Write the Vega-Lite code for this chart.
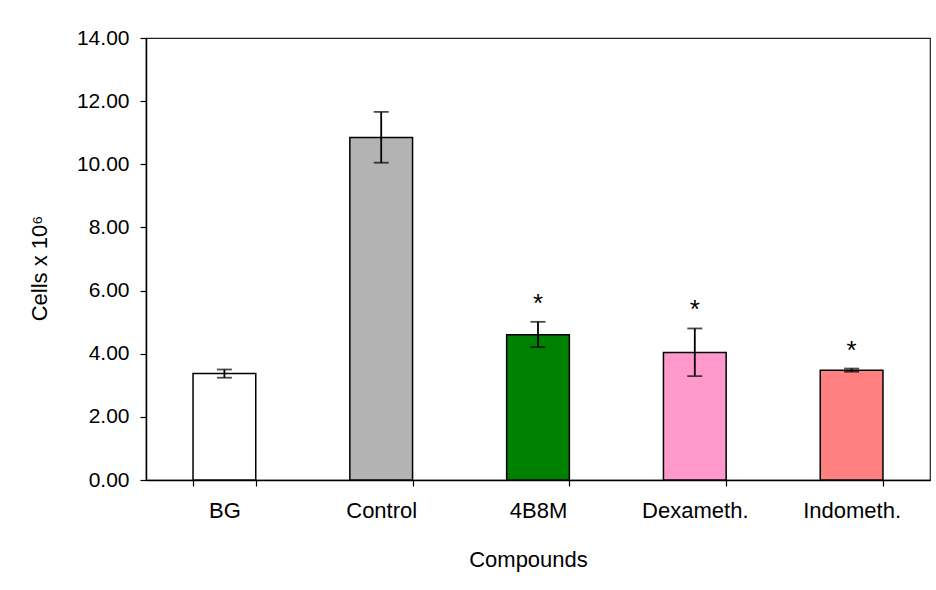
{
  "$schema": "https://vega.github.io/schema/vega-lite/v6.json",
  "autosize": {"type": "none"},
  "padding": {"left": 146, "top": 38, "right": 6, "bottom": 110},
  "width": 784,
  "height": 442,
  "background": "white",
  "config": {
    "font": "Liberation Sans",
    "view": {"stroke": "#222222", "strokeWidth": 1.2},
    "axis": {
      "domainColor": "#000000",
      "domainWidth": 1.5,
      "tickColor": "#000000",
      "tickWidth": 1.2,
      "tickSize": 6,
      "grid": false,
      "labelFont": "Liberation Sans",
      "labelFontSize": 21,
      "labelColor": "#000000",
      "titleFont": "Liberation Sans",
      "titleFontSize": 22,
      "titleFontWeight": "normal",
      "titleColor": "#000000"
    }
  },
  "data": {
    "values": [
      {"compound": "BG", "mean": 3.37, "lower": 3.24, "upper": 3.5, "sig": ""},
      {"compound": "Control", "mean": 10.85, "lower": 10.05, "upper": 11.66, "sig": ""},
      {"compound": "4B8M", "mean": 4.6, "lower": 4.21, "upper": 5.01, "sig": "*"},
      {"compound": "Dexameth.", "mean": 4.04, "lower": 3.29, "upper": 4.8, "sig": "*"},
      {"compound": "Indometh.", "mean": 3.48, "lower": 3.43, "upper": 3.53, "sig": "*"}
    ]
  },
  "encoding": {
    "x": {
      "field": "compound",
      "type": "nominal",
      "sort": null,
      "scale": {"paddingInner": 0.6, "paddingOuter": 0.3},
      "axis": {
        "title": "Compounds",
        "labelAngle": 0,
        "labelFontSize": 22,
        "labelPadding": 14,
        "tickBand": "extent",
        "titleX": 382,
        "titleY": 86,
        "titleBaseline": "alphabetic",
        "titleAnchor": null,
        "titleAlign": "center"
      }
    }
  },
  "layer": [
    {
      "mark": {"type": "bar", "stroke": "#000000", "strokeWidth": 1.5},
      "encoding": {
        "y": {
          "field": "mean",
          "type": "quantitative",
          "scale": {"domain": [0, 14], "nice": false, "zero": true},
          "axis": {
            "title": "Cells x 10⁶",
            "values": [0, 2, 4, 6, 8, 10, 12, 14],
            "format": ".2f",
            "labelPadding": 11,
            "titleX": -100,
            "titleY": 230,
            "titleAngle": -90,
            "titleBaseline": "alphabetic",
            "titleAlign": "center"
          }
        },
        "color": {
          "field": "compound",
          "type": "nominal",
          "scale": {
            "domain": ["BG", "Control", "4B8M", "Dexameth.", "Indometh."],
            "range": ["#ffffff", "#b3b3b3", "#008000", "#ff99cc", "#ff8080"]
          },
          "legend": null
        }
      }
    },
    {
      "mark": {"type": "rule", "color": "#000000", "strokeWidth": 1.8},
      "encoding": {
        "y": {"field": "lower", "type": "quantitative"},
        "y2": {"field": "upper"}
      }
    },
    {
      "mark": {"type": "tick", "color": "#000000", "thickness": 1.8, "size": 15},
      "encoding": {
        "y": {"field": "lower", "type": "quantitative"}
      }
    },
    {
      "mark": {"type": "tick", "color": "#000000", "thickness": 1.8, "size": 15},
      "encoding": {
        "y": {"field": "upper", "type": "quantitative"}
      }
    },
    {
      "mark": {
        "type": "text",
        "font": "Liberation Sans",
        "fontSize": 26,
        "color": "#000000",
        "baseline": "alphabetic",
        "dy": -10
      },
      "encoding": {
        "y": {"field": "upper", "type": "quantitative"},
        "text": {"field": "sig"}
      }
    }
  ]
}
